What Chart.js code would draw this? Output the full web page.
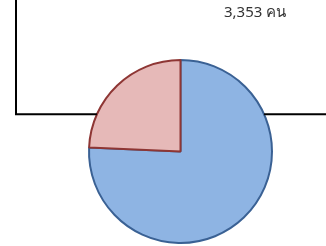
<!DOCTYPE html>
<html>
<head>
<meta charset="utf-8">
<script src="https://cdn.jsdelivr.net/npm/chart.js@4"></script>
<style>
  html, body { margin: 0; padding: 0; background: #fff; }
  #wrap { position: relative; width: 326px; height: 246px; }
  #lbl { position: absolute; left: 224px; top: 0px; font: 15px Tahoma, "Noto Sans", sans-serif; color: #333; white-space: nowrap; }
</style>
</head>
<body>
<div id="wrap">
  <canvas id="myChart" width="326" height="246"></canvas>
  <div id="lbl"></div>
</div>
<script>
const categories = ["A", "B"];
const values = [3353, 1077];
const labelText = "3,353 คน";

const fills = ["#8EB4E3", "#E6B9B8"];
const borders = ["#3A6194", "#8E3634"];

document.getElementById("lbl").textContent = labelText;

// leader lines hooked onto the pie edge
const leaders = {
  id: "leaders",
  afterDraw(chart) {
    const arc = chart.getDatasetMeta(0).data[0];
    const cx = arc.x, cy = arc.y, r = arc.outerRadius;
    const ctx = chart.ctx;
    ctx.save();
    ctx.strokeStyle = "#000";
    ctx.lineWidth = 2;
    let a = 204 * Math.PI / 180;
    let px = cx + r * Math.cos(a), py = cy + r * Math.sin(a);
    let lx = chart.chartArea.left - 71;
    ctx.beginPath();
    ctx.moveTo(px, py);
    ctx.lineTo(lx, py);
    ctx.lineTo(lx, 0);
    ctx.stroke();
    a = -24 * Math.PI / 180;
    px = cx + r * Math.cos(a); py = cy + r * Math.sin(a);
    ctx.beginPath();
    ctx.moveTo(px, py);
    ctx.lineTo(chart.width, py);
    ctx.stroke();
    ctx.restore();
  }
};

const ctx = document.getElementById("myChart").getContext("2d");
new Chart(ctx, {
  type: "pie",
  data: {
    labels: categories,
    datasets: [{
      data: values,
      backgroundColor: fills,
      borderColor: borders,
      borderWidth: 2
    }]
  },
  options: {
    responsive: false,
    animation: false,
    layout: { padding: { left: 87, right: 52, top: 59, bottom: 2 } },
    plugins: { legend: { display: false }, tooltip: { enabled: false } }
  },
  plugins: [leaders]
});
</script>
</body>
</html>
